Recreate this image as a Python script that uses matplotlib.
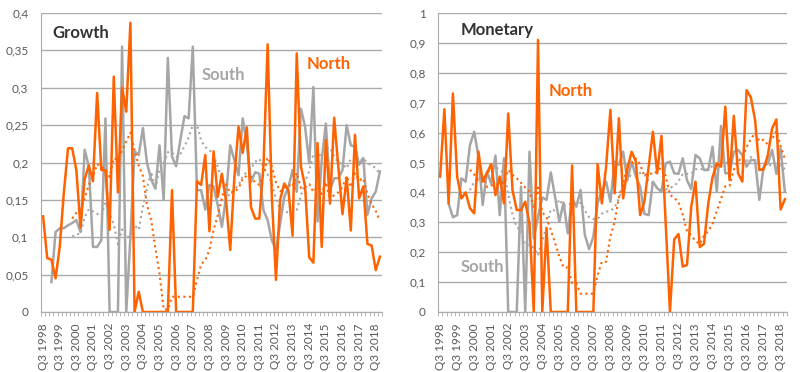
import matplotlib
matplotlib.use("Agg")
import matplotlib.pyplot as plt
from matplotlib.ticker import FuncFormatter, MultipleLocator
import numpy as np
import pandas as pd

nan = np.nan

quarters = []
for k in range(82):
    q = (3 + k - 1) % 4 + 1
    y = 1998 + (2 + k) // 4
    quarters.append("Q%d %d" % (q, y))

growth_north = [
    0.128, 0.072, 0.070, 0.045, 0.087, 0.160, 0.219, 0.219, 0.190, 0.113,
    0.178, 0.196, 0.175, 0.293, 0.190, 0.190, 0.110, 0.315, 0.160, 0.300,
    0.268, 0.387, 0.000, 0.027, 0.000, 0.000, 0.000, 0.000, 0.000, 0.000,
    0.000, 0.163, 0.000, 0.000, 0.000, 0.000, 0.000, 0.175, 0.170, 0.210,
    0.108, 0.215, 0.154, 0.185, 0.149, 0.083, 0.180, 0.248, 0.213, 0.247,
    0.140, 0.125, 0.125, 0.196, 0.358, 0.155, 0.043, 0.150, 0.172, 0.163,
    0.102, 0.346, 0.195, 0.168, 0.073, 0.066, 0.226, 0.087, 0.230, 0.145,
    0.260, 0.194, 0.131, 0.180, 0.109, 0.237, 0.152, 0.168, 0.091, 0.089,
    0.056, 0.074]

growth_south = [
    nan, nan, 0.040, 0.107, 0.112, 0.112, 0.116, 0.119, 0.123, 0.107,
    0.217, 0.195, 0.087, 0.087, 0.096, 0.259, 0.000, 0.000, 0.000, 0.355,
    0.000, 0.100, 0.215, 0.210, 0.246, 0.199, 0.177, 0.165, 0.223, 0.150,
    0.340, 0.208, 0.195, 0.230, 0.262, 0.259, 0.355, 0.163, 0.163, 0.137,
    0.170, 0.168, 0.143, 0.114, 0.154, 0.223, 0.203, 0.183, 0.259, 0.225,
    0.174, 0.187, 0.185, 0.136, 0.123, 0.096, 0.083, 0.118, 0.154, 0.167,
    0.190, 0.161, 0.272, 0.248, 0.199, 0.301, 0.121, 0.203, 0.252, 0.163,
    0.179, 0.179, 0.190, 0.250, 0.223, 0.221, 0.197, 0.206, 0.130, 0.152,
    0.161, 0.188]

monetary_north = [
    0.453, 0.678, 0.363, 0.731, 0.453, 0.380, 0.400, 0.347, 0.330, 0.536,
    0.436, 0.464, 0.495, 0.391, 0.453, 0.363, 0.664, 0.408, 0.341, 0.341,
    0.369, 0.296, 0.000, 0.910, 0.000, 0.280, 0.000, 0.000, 0.000, 0.000,
    0.000, 0.490, 0.000, 0.000, 0.000, 0.000, 0.000, 0.495, 0.363, 0.486,
    0.676, 0.397, 0.648, 0.380, 0.480, 0.536, 0.503, 0.324, 0.370, 0.486,
    0.603, 0.464, 0.589, 0.297, 0.000, 0.243, 0.261, 0.152, 0.157, 0.352,
    0.436, 0.217, 0.228, 0.363, 0.450, 0.497, 0.486, 0.687, 0.441, 0.656,
    0.464, 0.436, 0.742, 0.718, 0.642, 0.475, 0.477, 0.525, 0.614, 0.644,
    0.343, 0.377]

monetary_south = [
    nan, nan, 0.363, 0.317, 0.324, 0.447, 0.436, 0.558, 0.603, 0.520,
    0.358, 0.469, 0.430, 0.523, 0.324, 0.514, 0.000, 0.000, 0.000, 0.419,
    0.000, 0.536, 0.246, 0.319, 0.383, 0.375, 0.467, 0.386, 0.302, 0.366,
    0.263, 0.380, 0.352, 0.408, 0.258, 0.210, 0.252, 0.363, 0.408, 0.436,
    0.369, 0.503, 0.492, 0.536, 0.441, 0.503, 0.453, 0.419, 0.328, 0.324,
    0.436, 0.414, 0.402, 0.497, 0.503, 0.464, 0.462, 0.514, 0.441, 0.411,
    0.525, 0.514, 0.475, 0.475, 0.553, 0.402, 0.622, 0.464, 0.464, 0.536,
    0.542, 0.525, 0.486, 0.508, 0.508, 0.375, 0.486, 0.497, 0.542, 0.462,
    0.547, 0.402]

ORANGE = "#FF6200"
GREY = "#A6A6A6"
DARK = "#333333"
TICKC = "#595959"
GRID = "#ABABAB"

plt.rcParams['font.family'] = ['Lato', 'DejaVu Sans']


def ma8(vals):
    # 8-quarter moving average trendline
    s = pd.Series(vals).rolling(8, min_periods=1).mean()
    s.iloc[:7] = nan
    return s.values


def comma(v, pos):
    return ("%g" % round(v, 3)).replace(".", ",")


def setup(ax, ymax, step):
    x = np.arange(len(quarters))
    ax.set_xlim(-0.5, len(quarters) - 0.5)
    ax.set_ylim(0, ymax)
    ax.yaxis.set_major_locator(MultipleLocator(step))
    ax.yaxis.set_major_formatter(FuncFormatter(comma))
    ax.grid(axis='y', color=GRID, linewidth=1)
    ax.set_axisbelow(True)
    for s in ['top', 'right']:
        ax.spines[s].set_visible(False)
    ax.spines['left'].set_color(GRID)
    ax.spines['bottom'].set_color(GRID)
    ax.set_xticks(x[::4])
    ax.set_xticklabels(quarters[::4], rotation=90, fontsize=8.5, color=TICKC)
    ax.set_xticks(np.arange(-0.5, len(quarters)), minor=True)
    ax.tick_params(axis='x', which='major', length=0, pad=8)
    ax.tick_params(axis='x', which='minor', length=3, color=GRID)
    ax.tick_params(axis='y', length=0, pad=9, labelsize=8.5, labelcolor=TICKC)
    return x


fig = plt.figure(figsize=(8, 3.72), dpi=100)
ax1 = fig.add_axes([0.05125, 0.1613, 0.42625, 0.8037])
ax2 = fig.add_axes([0.5475, 0.1613, 0.43625, 0.8037])

x = setup(ax1, 0.4, 0.05)
ax1.plot(x, growth_south, color=GREY, lw=1.8)
ax1.plot(x, ma8(growth_south), color=GREY, lw=1.5, ls=':')
ax1.plot(x, ma8(growth_north), color=ORANGE, lw=1.5, ls=':')
ax1.plot(x, growth_north, color=ORANGE, lw=1.8)
ax1.text(2.2, 0.373, "Growth", color=DARK, fontsize=12, fontweight='bold', va='center')
ax1.text(38.1, 0.317, "South", color=GREY, fontsize=12, fontweight='bold', va='center')
ax1.text(63.4, 0.332, "North", color=ORANGE, fontsize=12, fontweight='bold', va='center')

x = setup(ax2, 1.0, 0.1)
ax2.plot(x, monetary_south, color=GREY, lw=1.8)
ax2.plot(x, ma8(monetary_south), color=GREY, lw=1.5, ls=':')
ax2.plot(x, ma8(monetary_north), color=ORANGE, lw=1.5, ls=':')
ax2.plot(x, monetary_north, color=ORANGE, lw=1.8)
ax2.text(4.9, 0.943, "Monetary", color=DARK, fontsize=12, fontweight='bold', va='center')
ax2.text(25.6, 0.739, "North", color=ORANGE, fontsize=12, fontweight='bold', va='center')
ax2.text(4.9, 0.150, "South", color=GREY, fontsize=12, fontweight='bold', va='center')

fig.savefig("out.png", dpi=100)
